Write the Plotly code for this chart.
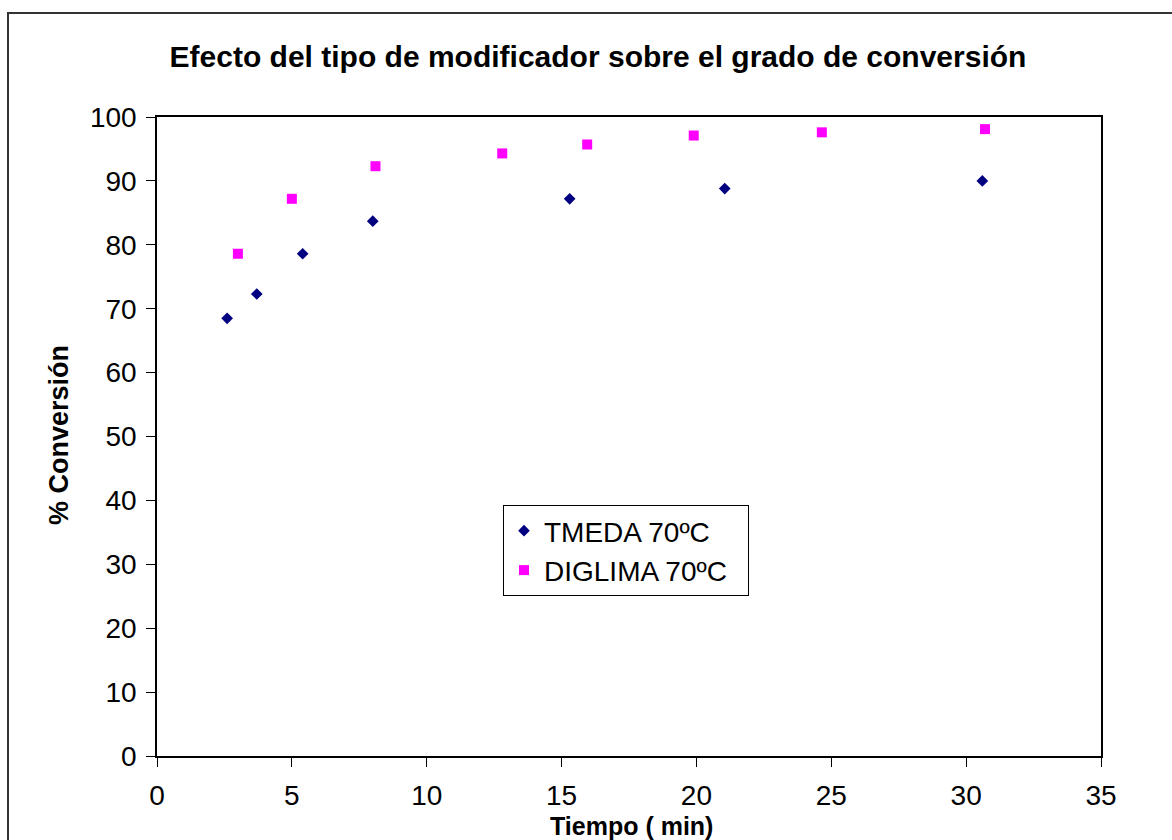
import plotly.graph_objects as go

# Data
tmeda_t = [2.6, 3.7, 5.4, 8.0, 15.3, 21.05, 30.6]
tmeda_conv = [68.5, 72.3, 78.6, 83.7, 87.2, 88.8, 90.0]

diglima_t = [3.0, 5.0, 8.1, 12.8, 15.95, 19.9, 24.65, 30.7]
diglima_conv = [78.6, 87.2, 92.3, 94.3, 95.7, 97.1, 97.6, 98.1]

title_text = "Efecto del tipo de modificador sobre el grado de conversión"
x_title = "Tiempo ( min)"
y_title = "% Conversión"
x_ticks = [0, 5, 10, 15, 20, 25, 30, 35]
y_ticks = [0, 10, 20, 30, 40, 50, 60, 70, 80, 90, 100]

FONT = "Liberation Sans, Arial, sans-serif"

W, H = 1172, 840
L, R, T, B = 157, 71, 117, 84
pw, ph = W - L - R, H - T - B

def px_x(px):
    return (px - L) / pw

def px_y(py):
    return (H - B - py) / ph

fig = go.Figure()
fig.add_trace(go.Scatter(
    x=tmeda_t, y=tmeda_conv, mode="markers", name="TMEDA 70ºC",
    marker=dict(symbol="diamond", size=9, color="#000080"),
))
fig.add_trace(go.Scatter(
    x=diglima_t, y=diglima_conv, mode="markers", name="DIGLIMA 70ºC\u00a0\u00a0",
    marker=dict(symbol="square", size=10, color="#FF00FF"),
))

fig.update_layout(
    width=W, height=H,
    margin=dict(l=L, r=R, t=T, b=B),
    paper_bgcolor="white", plot_bgcolor="white",
    font=dict(family=FONT, color="black"),
    title=dict(text="<b>" + title_text + "</b>", x=598 / W, xref="container",
               xanchor="center", y=1 - 56 / H, yref="container", yanchor="middle",
               font=dict(size=30, family=FONT, color="black")),
    showlegend=True,
    legend=dict(x=px_x(503), y=px_y(505), xanchor="left", yanchor="top",
                bordercolor="black", borderwidth=1, bgcolor="white",
                font=dict(size=28, family=FONT, color="black"),
                itemsizing="trace", tracegroupgap=0),
    xaxis=dict(range=[0, 35], tickvals=x_ticks, ticks="outside", ticklen=9,
               tickcolor="black", showline=True, linecolor="black", linewidth=1.5,
               mirror=True, showgrid=False, zeroline=False,
               tickfont=dict(size=28, family=FONT, color="black"),
               ticklabelstandoff=5),
    yaxis=dict(range=[0, 100], tickvals=y_ticks, ticks="outside", ticklen=9,
               tickcolor="black", showline=True, linecolor="black", linewidth=1.5,
               mirror=True, showgrid=False, zeroline=False,
               tickfont=dict(size=28, family=FONT, color="black"),
               ticklabelstandoff=4),
    annotations=[
        dict(text="<b>" + x_title + "</b>", x=px_x(631), y=px_y(826),
             xref="paper", yref="paper", showarrow=False, xanchor="center",
             yanchor="middle", font=dict(size=25, family=FONT, color="black")),
        dict(text="<b>" + y_title + "</b>", x=px_x(59), y=px_y(435),
             xref="paper", yref="paper", showarrow=False, textangle=-90,
             xanchor="center", yanchor="middle",
             font=dict(size=27, family=FONT, color="black")),
    ],
    shapes=[
        dict(type="rect", xref="paper", yref="paper",
             x0=px_x(8), y0=px_y(860), x1=px_x(1190), y1=px_y(13),
             line=dict(color="#333333", width=2), fillcolor="rgba(0,0,0,0)",
             layer="below"),
    ],
)

fig.write_html("out.html")
